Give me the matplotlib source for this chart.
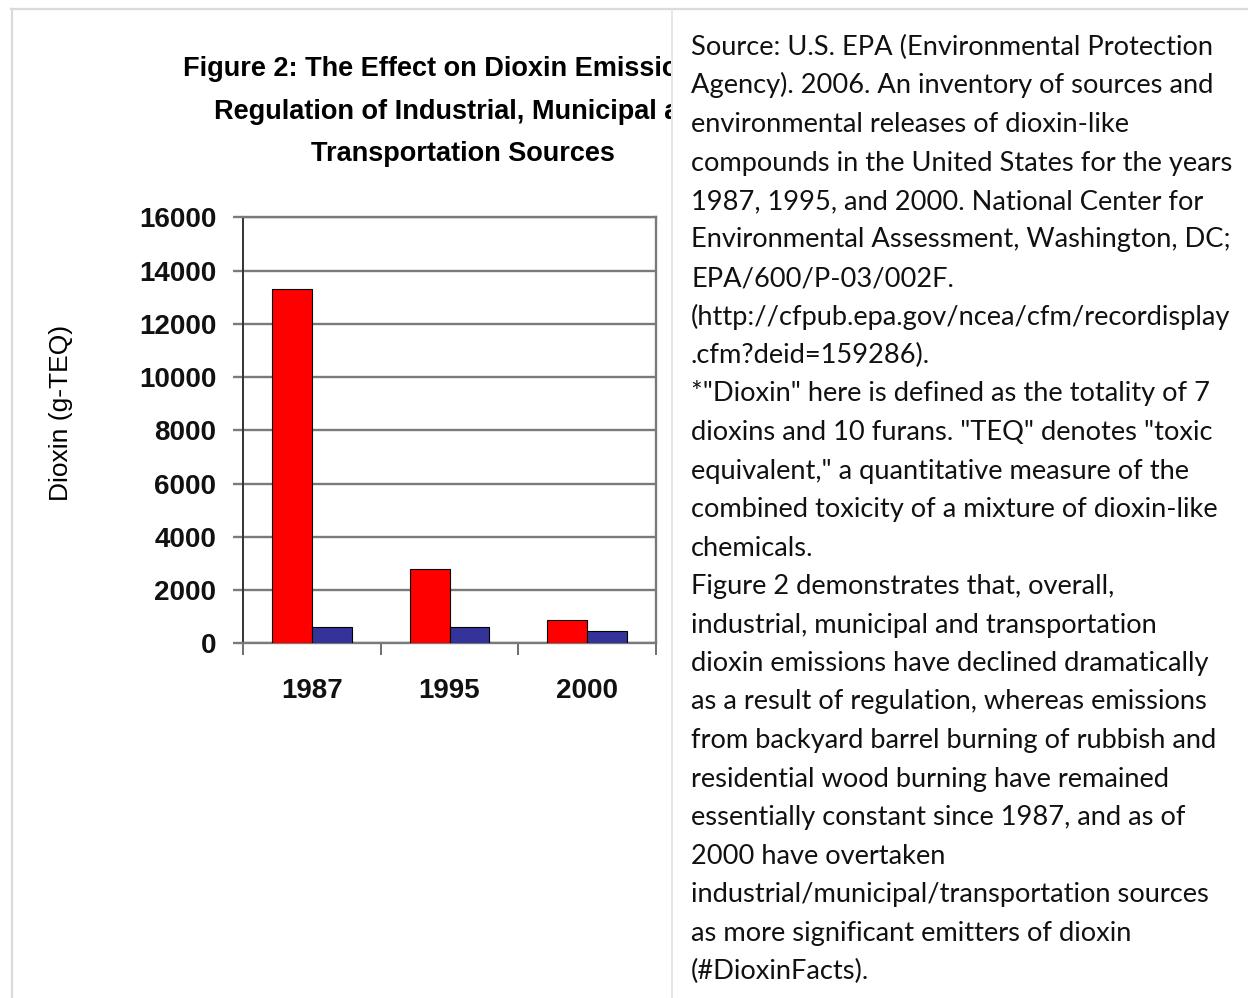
import matplotlib
matplotlib.use('Agg')
import matplotlib.pyplot as plt
from matplotlib.lines import Line2D
import numpy as np

# data
years = ['1987', '1995', '2000']
industrial = [13300, 2800, 870]    # industrial / municipal / transportation
backyard = [610, 610, 480]         # backyard barrel + residential wood
yticks = [0, 2000, 4000, 6000, 8000, 10000, 12000, 14000, 16000]

title_lines = ['Figure 2: The Effect on Dioxin Emissions of',
               'Regulation of Industrial, Municipal and',
               'Transportation Sources']

side_text = [
    'Source: U.S. EPA (Environmental Protection',
    'Agency). 2006. An inventory of sources and',
    'environmental releases of dioxin-like',
    'compounds in the United States for the years',
    '1987, 1995, and 2000. National Center for',
    'Environmental Assessment, Washington, DC;',
    'EPA/600/P-03/002F.',
    '(http://cfpub.epa.gov/ncea/cfm/recordisplay',
    '.cfm?deid=159286).',
    '*"Dioxin" here is defined as the totality of 7',
    'dioxins and 10 furans. "TEQ" denotes "toxic',
    'equivalent," a quantitative measure of the',
    'combined toxicity of a mixture of dioxin-like',
    'chemicals.',
    'Figure 2 demonstrates that, overall,',
    'industrial, municipal and transportation',
    'dioxin emissions have declined dramatically',
    'as a result of regulation, whereas emissions',
    'from backyard barrel burning of rubbish and',
    'residential wood burning have remained',
    'essentially constant since 1987, and as of',
    '2000 have overtaken',
    'industrial/municipal/transportation sources',
    'as more significant emitters of dioxin',
    '(#DioxinFacts).',
]

W, H = 1248, 998
fig = plt.figure(figsize=(W / 100, H / 100), dpi=100)

def fx(px):
    return px / W

def fy(py):
    return 1 - py / H

# table borders
border = '#dadada'
fig.add_artist(Line2D([fx(11), 1], [fy(9), fy(9)], color=border, lw=1.6))
fig.add_artist(Line2D([fx(12), fx(12)], [fy(9), 0], color=border, lw=1.6))
fig.add_artist(Line2D([fx(672), fx(672)], [fy(9), 0], color='#e3e3e3', lw=1.2))

# cut-off character at the very top (only its tail shows, as on the page)
fig.text(fx(68), fy(-3), ')', fontsize=16, family='Lato', va='baseline')

# left cell, used to clip the title like the page does
panel = fig.add_axes([fx(14), 0, fx(671) - fx(14), fy(10)])
panel.axis('off')
panel.set_xlim(14, 671)
panel.set_ylim(H, 10)
for i, line in enumerate(title_lines):
    panel.text(463, 69 + 42.5 * i, line, ha='center', va='center',
               fontsize=19.5, fontweight='bold', family='Liberation Sans',
               clip_on=True)

# bar chart
ax = fig.add_axes([fx(243), fy(643.3), fx(656) - fx(243), (643.3 - 217.3) / H])
x = np.arange(len(years))
bw = 0.29
ax.bar(x - bw / 2, industrial, bw, color='#ff0000', edgecolor='black', lw=0.8, zorder=3)
ax.bar(x + bw / 2, backyard, bw, color='#333399', edgecolor='black', lw=0.8, zorder=3)

ax.set_xlim(-0.5, 2.5)
ax.set_ylim(0, 16000)
ax.set_yticks(yticks)
ax.set_yticklabels([str(v) for v in yticks])
ax.yaxis.grid(True, color='#7a7a7a', lw=1.7)
ax.set_axisbelow(True)

ax.set_xticks([-0.5, 0.5, 1.5, 2.5])
ax.set_xticklabels([])
ax.set_xticks(x, minor=True)
ax.set_xticklabels(years, minor=True)
ax.tick_params(axis='x', which='major', direction='out', length=8.5, width=1.2, color='#555555')
ax.tick_params(axis='x', which='minor', length=0, pad=25, labelsize=20)
ax.tick_params(axis='y', direction='out', length=7.2, width=1.7, color='#7a7a7a',
               pad=12, labelsize=20)
for lab in ax.get_xticklabels(minor=True) + ax.get_yticklabels():
    lab.set_family('Liberation Sans')
    lab.set_fontweight('bold')
    lab.set_color('#111111')

ax.spines['left'].set_color('#333333')
ax.spines['left'].set_linewidth(1.4)
for s in ['top', 'right', 'bottom']:
    ax.spines[s].set_color('#7a7a7a')
    ax.spines[s].set_linewidth(1.7)

fig.text(fx(61), fy(413), 'Dioxin (g-TEQ)', rotation=90, ha='center', va='center',
         fontsize=19, family='Liberation Sans')

# right cell text
for i, line in enumerate(side_text):
    fig.text(fx(691), fy(55 + 38.5 * i), line, ha='left', va='baseline',
             fontsize=19.6, family='Lato', color='#111111')

fig.savefig('out.png', dpi=100)
